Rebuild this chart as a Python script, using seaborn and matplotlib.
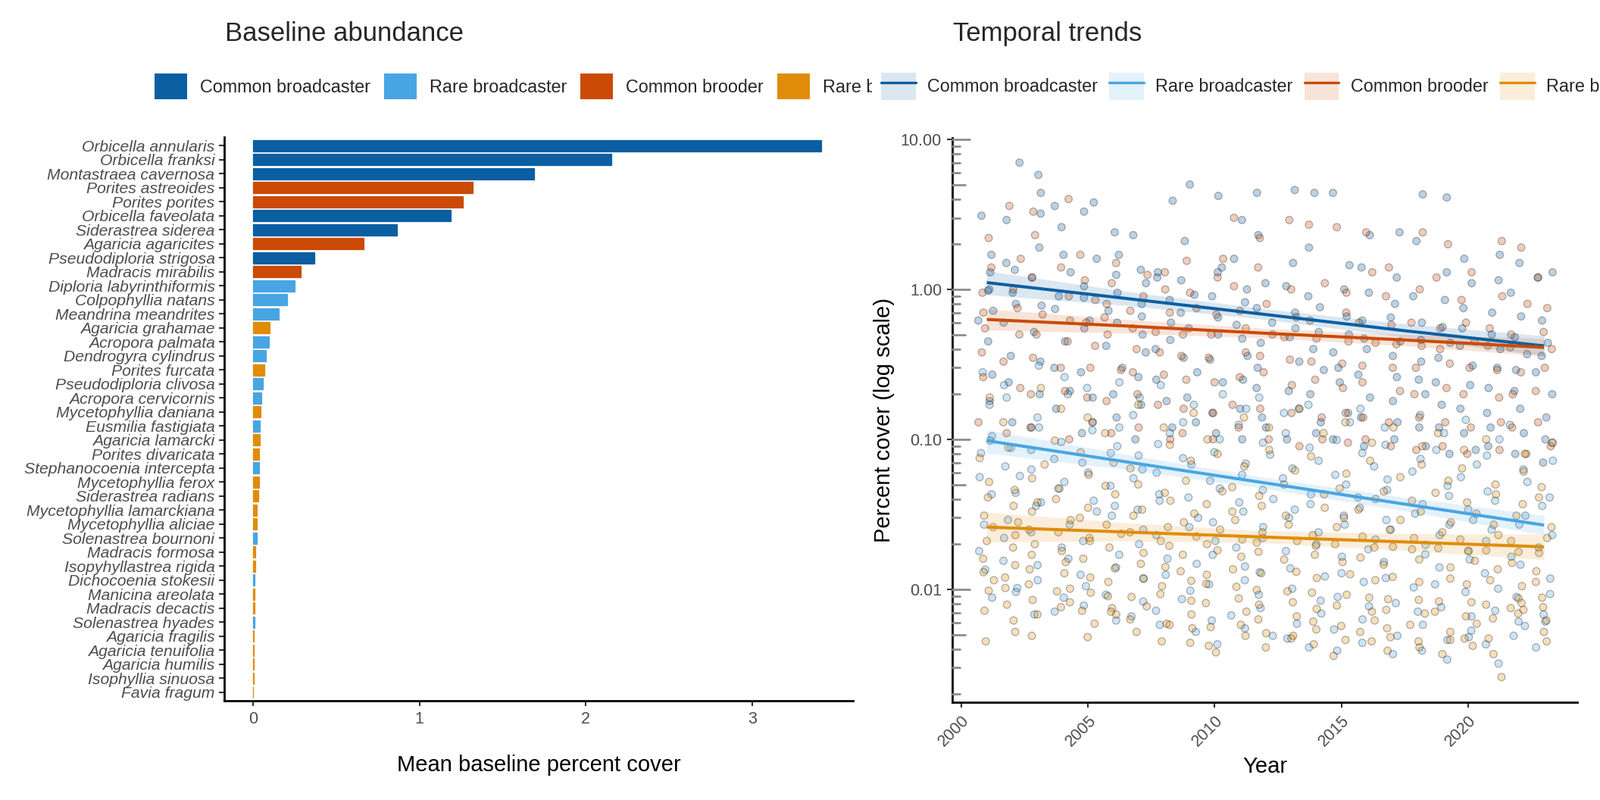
import numpy as np
import pandas as pd
import matplotlib
matplotlib.use("Agg")
import matplotlib.pyplot as plt
import matplotlib.transforms as mtransforms
from matplotlib.patches import Patch
from matplotlib.lines import Line2D
from matplotlib.ticker import LogLocator, NullLocator
import seaborn as sns

# ---- data -------------------------------------------------------------
CB, RB, CBR, RBR = "Common broadcaster", "Rare broadcaster", "Common brooder", "Rare brooder"
groups = [CB, RB, CBR, RBR]
group_colors = ["#0B5EA2", "#48A5E3", "#CB4A05", "#E08C09"]

species = [
    "Orbicella annularis", "Orbicella franksi", "Montastraea cavernosa", "Porites astreoides",
    "Porites porites", "Orbicella faveolata", "Siderastrea siderea", "Agaricia agaricites",
    "Pseudodiploria strigosa", "Madracis mirabilis", "Diploria labyrinthiformis", "Colpophyllia natans",
    "Meandrina meandrites", "Agaricia grahamae", "Acropora palmata", "Dendrogyra cylindrus",
    "Porites furcata", "Pseudodiploria clivosa", "Acropora cervicornis", "Mycetophyllia daniana",
    "Eusmilia fastigiata", "Agaricia lamarcki", "Porites divaricata", "Stephanocoenia intercepta",
    "Mycetophyllia ferox", "Siderastrea radians", "Mycetophyllia lamarckiana", "Mycetophyllia aliciae",
    "Solenastrea bournoni", "Madracis formosa", "Isopyhyllastrea rigida", "Dichocoenia stokesii",
    "Manicina areolata", "Madracis decactis", "Solenastrea hyades", "Agaricia fragilis",
    "Agaricia tenuifolia", "Agaricia humilis", "Isophyllia sinuosa", "Favia fragum",
]
species_group = [
    CB, CB, CB, CBR, CBR, CB, CB, CBR, CB, CBR,
    RB, RB, RB, RBR, RB, RB, RBR, RB, RB, RBR,
    RB, RBR, RBR, RB, RBR, RBR, RBR, RBR, RB, RBR,
    RBR, RB, RBR, RBR, RB, RBR, RBR, RBR, RBR, RBR,
]
baseline_cover = [
    3.415, 2.154, 1.69, 1.32, 1.26, 1.19, 0.866, 0.665, 0.37, 0.287,
    0.25, 0.205, 0.155, 0.10, 0.096, 0.077, 0.069, 0.059, 0.051, 0.047,
    0.041, 0.041, 0.037, 0.037, 0.037, 0.033, 0.022, 0.022, 0.022, 0.014,
    0.014, 0.008, 0.01, 0.01, 0.008, 0.005, 0.005, 0.005, 0.005, 0.002,
]

years = list(range(2001, 2024))

cb_cover = [
    [3.1, 1.7, 1.3, 1.0, 0.98, 0.72, 0.62, 0.45, 0.27, 0.18],
    [7.0, 2.9, 1.5, 1.35, 0.95, 0.8, 0.6, 0.36, 0.24, 0.13],
    [5.8, 4.4, 3.2, 1.9, 1.2, 0.78, 0.52, 0.33, 0.2, 0.12],
    [3.6, 2.6, 1.7, 1.3, 0.9, 0.74, 0.45, 0.3, 0.21, 0.16],
    [3.8, 3.3, 1.6, 1.05, 0.88, 0.62, 0.55, 0.28, 0.19, 0.11],
    [2.4, 1.7, 1.25, 0.95, 0.72, 0.6, 0.42, 0.3, 0.2, 0.14],
    [2.3, 1.35, 1.1, 0.8, 0.66, 0.5, 0.38, 0.26, 0.17, 0.1],
    [3.9, 1.3, 1.2, 0.85, 0.6, 0.46, 0.4, 0.25, 0.18, 0.12],
    [5.0, 2.1, 1.15, 0.92, 0.7, 0.55, 0.35, 0.28, 0.19, 0.13],
    [4.2, 1.4, 1.3, 0.9, 0.65, 0.5, 0.34, 0.24, 0.15, 0.11],
    [2.9, 1.6, 1.0, 0.82, 0.58, 0.47, 0.36, 0.25, 0.16, 0.1],
    [4.4, 2.3, 1.1, 0.75, 0.6, 0.44, 0.3, 0.22, 0.14, 0.12],
    [4.6, 1.5, 1.05, 0.7, 0.55, 0.48, 0.33, 0.21, 0.16, 0.1],
    [4.4, 1.9, 0.9, 0.76, 0.52, 0.4, 0.29, 0.2, 0.13, 0.11],
    [4.4, 1.45, 1.0, 0.66, 0.5, 0.38, 0.3, 0.24, 0.15, 0.1],
    [2.3, 1.4, 0.95, 0.62, 0.47, 0.4, 0.27, 0.19, 0.14, 0.09],
    [2.4, 1.2, 0.8, 0.65, 0.45, 0.36, 0.26, 0.18, 0.13, 0.1],
    [4.3, 2.1, 0.9, 0.6, 0.46, 0.33, 0.25, 0.2, 0.12, 0.09],
    [4.1, 1.3, 0.85, 0.56, 0.44, 0.35, 0.24, 0.17, 0.12, 0.08],
    [1.6, 1.1, 0.75, 0.55, 0.42, 0.31, 0.23, 0.16, 0.11, 0.085],
    [1.7, 1.15, 0.7, 0.5, 0.4, 0.3, 0.22, 0.15, 0.12, 0.09],
    [1.5, 0.95, 0.66, 0.48, 0.37, 0.29, 0.21, 0.16, 0.11, 0.08],
    [1.3, 1.2, 0.62, 0.44, 0.36, 0.28, 0.2, 0.14, 0.1, 0.07],
]
cbr_cover = [
    [2.2, 1.4, 0.95, 0.7, 0.55, 0.38, 0.26, 0.13],
    [3.6, 1.6, 1.0, 0.75, 0.5, 0.33, 0.22, 0.11],
    [3.3, 2.3, 1.2, 0.68, 0.5, 0.35, 0.2, 0.12],
    [4.0, 1.4, 0.9, 0.62, 0.45, 0.3, 0.21, 0.1],
    [1.7, 1.15, 0.85, 0.6, 0.42, 0.3, 0.19, 0.13],
    [1.5, 1.1, 0.8, 0.65, 0.5, 0.29, 0.18, 0.11],
    [1.25, 0.9, 0.72, 0.55, 0.4, 0.28, 0.2, 0.12],
    [1.3, 1.0, 0.7, 0.52, 0.38, 0.27, 0.17, 0.1],
    [1.55, 0.95, 0.75, 0.5, 0.36, 0.25, 0.16, 0.11],
    [1.6, 1.2, 0.68, 0.5, 0.35, 0.24, 0.15, 0.1],
    [3.0, 1.05, 0.72, 0.55, 0.38, 0.26, 0.17, 0.12],
    [2.2, 1.4, 0.8, 0.5, 0.36, 0.28, 0.16, 0.1],
    [2.9, 1.0, 0.65, 0.48, 0.34, 0.23, 0.15, 0.09],
    [2.7, 1.1, 0.62, 0.47, 0.33, 0.25, 0.14, 0.1],
    [2.6, 0.95, 0.7, 0.45, 0.32, 0.22, 0.15, 0.095],
    [2.4, 1.3, 0.6, 0.44, 0.31, 0.24, 0.14, 0.1],
    [1.4, 0.9, 0.58, 0.43, 0.3, 0.21, 0.13, 0.09],
    [2.4, 1.0, 0.6, 0.42, 0.3, 0.2, 0.14, 0.085],
    [2.0, 1.2, 0.55, 0.4, 0.32, 0.22, 0.13, 0.09],
    [1.3, 0.85, 0.6, 0.45, 0.3, 0.2, 0.12, 0.08],
    [2.1, 0.9, 0.55, 0.42, 0.29, 0.19, 0.13, 0.085],
    [1.9, 0.8, 0.5, 0.41, 0.28, 0.2, 0.12, 0.08],
    [1.2, 0.75, 0.52, 0.4, 0.3, 0.21, 0.13, 0.09],
]
rb_cover = [
    [0.28, 0.17, 0.105, 0.098, 0.081, 0.056, 0.043, 0.027, 0.018, 0.0135, 0.0088],
    [0.23, 0.19, 0.088, 0.066, 0.057, 0.044, 0.029, 0.022, 0.0155, 0.0102, 0.0096],
    [0.31, 0.14, 0.12, 0.085, 0.063, 0.038, 0.036, 0.024, 0.0145, 0.0115, 0.0068],
    [0.26, 0.2, 0.096, 0.074, 0.052, 0.047, 0.027, 0.019, 0.016, 0.0088, 0.0071],
    [0.22, 0.13, 0.115, 0.07, 0.06, 0.039, 0.033, 0.021, 0.0125, 0.0105, 0.0078],
    [0.24, 0.12, 0.09, 0.081, 0.049, 0.036, 0.031, 0.017, 0.014, 0.0092, 0.0062],
    [0.19, 0.145, 0.078, 0.063, 0.055, 0.034, 0.025, 0.02, 0.0118, 0.0083, 0.0066],
    [0.23, 0.11, 0.093, 0.06, 0.043, 0.039, 0.023, 0.016, 0.0125, 0.0072, 0.0058],
    [0.17, 0.13, 0.075, 0.068, 0.041, 0.03, 0.026, 0.0148, 0.0098, 0.0086, 0.0052],
    [0.2, 0.1, 0.082, 0.053, 0.047, 0.028, 0.021, 0.017, 0.0108, 0.0062, 0.0043],
    [0.16, 0.125, 0.069, 0.058, 0.038, 0.033, 0.019, 0.0142, 0.0115, 0.0067, 0.0055],
    [0.19, 0.095, 0.079, 0.046, 0.04, 0.026, 0.022, 0.013, 0.0092, 0.0075, 0.0049],
    [0.15, 0.11, 0.064, 0.055, 0.034, 0.03, 0.018, 0.0138, 0.0101, 0.0059, 0.0047],
    [0.17, 0.088, 0.072, 0.043, 0.037, 0.024, 0.02, 0.0122, 0.0084, 0.0069, 0.0041],
    [0.13, 0.099, 0.058, 0.05, 0.031, 0.027, 0.0165, 0.0128, 0.0089, 0.0054, 0.0039],
    [0.16, 0.081, 0.066, 0.041, 0.035, 0.0215, 0.0185, 0.0112, 0.0077, 0.0063, 0.0044],
    [0.12, 0.092, 0.054, 0.046, 0.029, 0.025, 0.0152, 0.0119, 0.0081, 0.0049, 0.0037],
    [0.145, 0.074, 0.061, 0.037, 0.032, 0.0198, 0.0171, 0.0103, 0.0071, 0.0058, 0.0039],
    [0.11, 0.085, 0.049, 0.042, 0.027, 0.023, 0.014, 0.0108, 0.0076, 0.0046, 0.0034],
    [0.135, 0.068, 0.056, 0.034, 0.029, 0.018, 0.0158, 0.0096, 0.0066, 0.0053, 0.0048],
    [0.1, 0.078, 0.045, 0.039, 0.025, 0.021, 0.0128, 0.0101, 0.0072, 0.0043, 0.0032],
    [0.125, 0.063, 0.052, 0.031, 0.027, 0.0165, 0.0146, 0.0089, 0.0061, 0.0057, 0.0049],
    [0.095, 0.072, 0.041, 0.036, 0.023, 0.019, 0.0118, 0.0093, 0.0068, 0.0061, 0.0041],
]
rbr_cover = [
    [0.19, 0.075, 0.052, 0.041, 0.031, 0.026, 0.021, 0.016, 0.013, 0.0115, 0.0098, 0.0072, 0.0045],
    [0.13, 0.088, 0.046, 0.036, 0.028, 0.023, 0.019, 0.0145, 0.012, 0.0102, 0.0079, 0.0062, 0.0052],
    [0.22, 0.068, 0.055, 0.038, 0.033, 0.025, 0.02, 0.017, 0.0136, 0.0108, 0.0085, 0.0068, 0.0049],
    [0.16, 0.098, 0.047, 0.04, 0.029, 0.024, 0.018, 0.0152, 0.0128, 0.0097, 0.0082, 0.0101, 0.0076],
    [0.14, 0.082, 0.058, 0.035, 0.03, 0.022, 0.021, 0.016, 0.012, 0.0095, 0.0072, 0.0059, 0.0048],
    [0.11, 0.07, 0.049, 0.043, 0.027, 0.0235, 0.019, 0.0138, 0.0112, 0.009, 0.0075, 0.0068, 0.0071],
    [0.17, 0.064, 0.05, 0.034, 0.031, 0.024, 0.0175, 0.0148, 0.0118, 0.0089, 0.0077, 0.0052, 0.0063],
    [0.12, 0.092, 0.044, 0.039, 0.026, 0.021, 0.0195, 0.0141, 0.0105, 0.0093, 0.0059, 0.0045, 0.0058],
    [0.15, 0.072, 0.053, 0.032, 0.028, 0.0225, 0.017, 0.0132, 0.0114, 0.0084, 0.0068, 0.0055, 0.0044],
    [0.1, 0.08, 0.045, 0.037, 0.025, 0.02, 0.0182, 0.0125, 0.0109, 0.0081, 0.0056, 0.0042, 0.0038],
    [0.14, 0.066, 0.048, 0.033, 0.029, 0.0215, 0.0165, 0.0136, 0.0104, 0.0087, 0.0071, 0.0058, 0.0049],
    [0.12, 0.085, 0.042, 0.036, 0.024, 0.0205, 0.0178, 0.0128, 0.0099, 0.0079, 0.0063, 0.0051, 0.0041],
    [0.16, 0.062, 0.05, 0.031, 0.027, 0.021, 0.0158, 0.0131, 0.0097, 0.0082, 0.0066, 0.0049, 0.0047],
    [0.11, 0.077, 0.043, 0.035, 0.023, 0.0195, 0.017, 0.0119, 0.0095, 0.0074, 0.0061, 0.0054, 0.0043],
    [0.13, 0.059, 0.047, 0.03, 0.026, 0.02, 0.0152, 0.0126, 0.0092, 0.0078, 0.0057, 0.0046, 0.0036],
    [0.095, 0.072, 0.04, 0.034, 0.0225, 0.019, 0.0163, 0.0115, 0.0088, 0.0071, 0.0062, 0.0052, 0.0045],
    [0.12, 0.056, 0.045, 0.029, 0.025, 0.0192, 0.0146, 0.0121, 0.0086, 0.0073, 0.0055, 0.0048, 0.0039],
    [0.09, 0.068, 0.039, 0.033, 0.022, 0.0185, 0.0158, 0.0112, 0.0085, 0.0069, 0.0058, 0.0045, 0.0041],
    [0.11, 0.053, 0.044, 0.028, 0.024, 0.0188, 0.014, 0.0118, 0.0083, 0.0071, 0.0052, 0.0046, 0.0037],
    [0.085, 0.064, 0.038, 0.032, 0.0215, 0.018, 0.0155, 0.0108, 0.0082, 0.0066, 0.0059, 0.0047, 0.0042],
    [0.1, 0.05, 0.043, 0.027, 0.023, 0.0182, 0.0136, 0.0115, 0.0079, 0.0064, 0.0047, 0.0037, 0.0026],
    [0.08, 0.061, 0.037, 0.031, 0.021, 0.0178, 0.015, 0.0105, 0.0087, 0.0073, 0.0069, 0.0081, 0.0075],
    [0.095, 0.048, 0.041, 0.026, 0.022, 0.0175, 0.0132, 0.0112, 0.0076, 0.0088, 0.0062, 0.0045, 0.0052],
]

# fitted trends (log-linear) with confidence band
trend_years = [2001, 2006.5, 2012, 2017.5, 2023]
cb_fit = [1.11, 0.87, 0.68, 0.53, 0.42]
cb_lo = [0.92, 0.78, 0.63, 0.48, 0.36]
cb_hi = [1.33, 0.97, 0.74, 0.59, 0.49]
rb_fit = [0.098, 0.0708, 0.0512, 0.037, 0.0268]
rb_lo = [0.081, 0.063, 0.047, 0.0333, 0.0231]
rb_hi = [0.116, 0.0795, 0.0555, 0.041, 0.0311]
cbr_fit = [0.63, 0.57, 0.51, 0.46, 0.41]
cbr_lo = [0.535, 0.51, 0.475, 0.42, 0.36]
cbr_hi = [0.74, 0.63, 0.55, 0.50, 0.47]
rbr_fit = [0.026, 0.0241, 0.0223, 0.0207, 0.0192]
rbr_lo = [0.0207, 0.021, 0.0204, 0.0182, 0.0158]
rbr_hi = [0.0327, 0.0277, 0.0245, 0.0235, 0.0233]

# ---- style -------------------------------------------------------------
sns.set_theme(style="ticks")
plt.rcParams["font.family"] = ["Liberation Sans", "DejaVu Sans"]
TICK_GREY = "#4D4D4D"

W, H = 2112, 1056
fig = plt.figure(figsize=(W / 100, H / 100), dpi=100)
fig.patch.set_facecolor("white")


def px_rect(x0, y0, x1, y1):
    return [x0 / W, 1 - y1 / H, (x1 - x0) / W, (y1 - y0) / H]


ax1 = fig.add_axes(px_rect(296, 181, 1126, 925))
ax2 = fig.add_axes(px_rect(1257, 182, 2082, 927))

for ax in (ax1, ax2):
    sns.despine(ax=ax)
    for s in ("left", "bottom"):
        ax.spines[s].set_linewidth(2.0)
        ax.spines[s].set_color("black")
    ax.tick_params(axis="both", which="major", direction="out", length=5, width=1.5,
                   color="#333333", labelcolor=TICK_GREY, labelsize=15.5, pad=5)
    ax.grid(False)

# ---- left: baseline abundance -----------------------------------------
bar_df = pd.DataFrame({"species": species, "cover": baseline_cover, "group": species_group})
sns.barplot(data=bar_df, x="cover", y="species", hue="group", hue_order=groups,
            palette=group_colors, dodge=False, width=0.8, saturation=1,
            errorbar=None, legend=False, orient="y", ax=ax1)
# thin outline in the bar's own colour so the tiniest bars stay visible
for bar in ax1.patches:
    bar.set_edgecolor(bar.get_facecolor())
    bar.set_linewidth(0.9)
ax1.set_ylim(len(species) - 0.4, -0.6)
ax1.set_xlim(-0.173, 3.607)
ax1.set_xticks([0, 1, 2, 3])
ax1.set_yticks(range(len(species)))
ax1.set_yticklabels(species, fontstyle="italic", fontsize=15.2, color=TICK_GREY)
ax1.tick_params(axis="y", pad=4)
ax1.set_ylabel("")
ax1.set_xlabel("Mean baseline percent cover", fontsize=21, color="black", labelpad=26)

fig.text(297 / W, 1 - 54 / H, "Baseline abundance", fontsize=25, ha="left", va="baseline")

leg_kw = dict(loc="center left", bbox_transform=fig.transFigure, ncol=4, frameon=False,
              fontsize=16.8, borderpad=0, borderaxespad=0)
bar_handles = [Patch(facecolor=c, edgecolor="none") for c in group_colors]
leg1 = ax1.legend(bar_handles, groups, bbox_to_anchor=(204 / W, 1 - 114 / H),
                  handlelength=1.85, handleheight=1.8, handletextpad=0.72,
                  columnspacing=0.77, **leg_kw)
# the left legend is cut at the edge of the left plot area
clip = mtransforms.TransformedBbox(mtransforms.Bbox.from_extents(0, 0, 1151 / W, 1), fig.transFigure)
for art in leg1.findobj():
    art.set_clip_box(clip)
    art.set_clip_on(True)

# ---- right: temporal trends --------------------------------------------
rows = []
for grp, table in zip(groups, [cb_cover, rb_cover, cbr_cover, rbr_cover]):
    for yr, vals in zip(years, table):
        for v in vals:
            rows.append((yr, v, grp))
pts = pd.DataFrame(rows, columns=["year", "cover", "group"])

sns.stripplot(data=pts, x="year", y="cover", hue="group", hue_order=groups,
              palette=group_colors, native_scale=True, jitter=0.35, orient="x",
              size=7, alpha=0.28, edgecolor="black", linewidth=1.0,
              legend=False, ax=ax2)
ax2.set_yscale("log")

fits = [(cb_fit, cb_lo, cb_hi), (rb_fit, rb_lo, rb_hi), (cbr_fit, cbr_lo, cbr_hi), (rbr_fit, rbr_lo, rbr_hi)]
for (fit, lo, hi), col in zip(fits, group_colors):
    ax2.fill_between(trend_years, lo, hi, color=col, alpha=0.15, lw=0, zorder=3)
    ax2.plot(trend_years, fit, color=col, lw=2.9, solid_capstyle="butt", zorder=4)

ax2.set_xlim(1999.64, 2024.31)
ylo, yhi = 10 ** -2.753, 10 ** 1.0101
ax2.set_ylim(ylo, yhi)
ax2.set_yticks([0.01, 0.1, 1, 10])
ax2.set_yticklabels(["0.01", "0.10", "1.00", "10.00"])
ax2.yaxis.set_minor_locator(NullLocator())
ax2.set_xticks([2000, 2005, 2010, 2015, 2020])
ax2.set_xticklabels(["2000", "2005", "2010", "2015", "2020"], rotation=45,
                    ha="right", va="top", rotation_mode="anchor")
ax2.set_xlabel("Year", fontsize=21, color="black", labelpad=6)
ax2.set_ylabel("Percent cover (log scale)", fontsize=21, color="black", labelpad=6)

# grey log ticks inside the panel (long at decades, medium at 5s)
ax_w = 2082 - 1257
btr = mtransforms.blended_transform_factory(ax2.transAxes, ax2.transData)
for v in LogLocator(base=10, subs=np.arange(1, 10)).tick_values(ylo, yhi):
    if not (ylo <= v <= yhi):
        continue
    lead = round(v / 10 ** np.floor(np.log10(v) + 1e-9))
    length = 23 if lead == 1 else (17 if lead == 5 else 10)
    ax2.plot([0, length / ax_w], [v, v], color="#8C8C8C", lw=2.0,
             transform=btr, clip_on=False, zorder=5)

fig.text(1258 / W, 1 - 54 / H, "Temporal trends", fontsize=25, ha="left", va="baseline")

trend_handles = [(Patch(facecolor=c, alpha=0.15, edgecolor="none"), Line2D([], [], color=c, lw=2.4))
                 for c in group_colors]
ax2.legend(trend_handles, groups, bbox_to_anchor=(1163 / W, 1 - 114 / H),
           handlelength=1.95, handleheight=1.95, handletextpad=0.66,
           columnspacing=0.66, **leg_kw)

fig.savefig("out.png", dpi=100, facecolor="white")
